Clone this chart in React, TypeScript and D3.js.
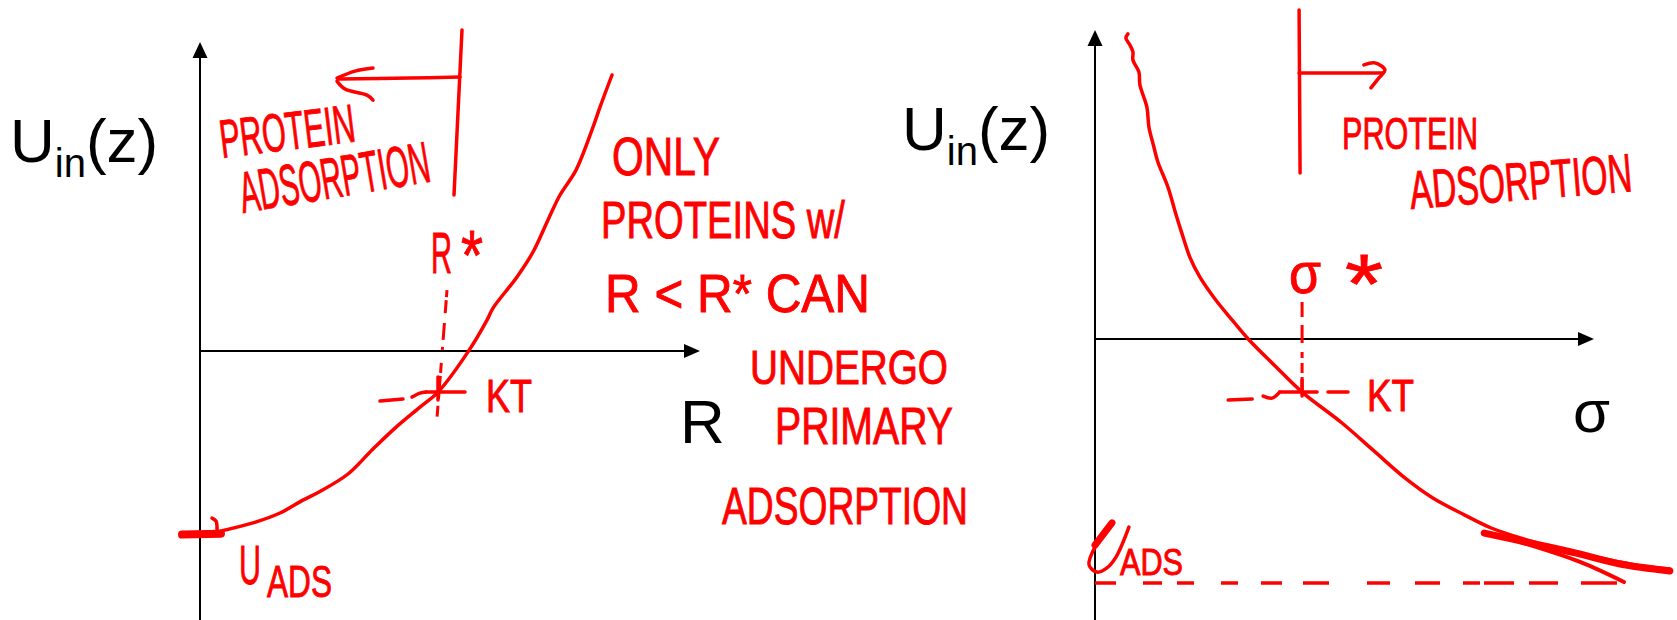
import React, { useLayoutEffect, useRef, useState } from "react";
import * as d3 from "d3";

const W = 1677;
const H = 620;
const RED = "#ff0000";
const INK = "#000000";
const FONT = "'Liberation Sans', Arial, sans-serif";

// ---- Left panel: interaction potential vs. protein radius R ----
const leftR = [0.34, 1.06, 1.6, 2.06, 2.38, 2.96, 3.44, 3.9, 4.4, 4.76, 5.36, 5.74, 5.86, 6.34, 6.66, 6.96, 7.2, 7.52, 7.84, 8.0, 8.24];
const leftU = [-6.03, -5.73, -5.4, -4.97, -4.7, -4.1, -3.3, -2.57, -1.87, -1.37, -0.03, 1.03, 1.43, 2.47, 3.3, 4.37, 5.2, 6.03, 7.37, 8.13, 9.2];
const leftUads = -6.12;
const rStar = 4.76;
const ktLeft = -1.37;
const leftBoundaryR = [5.24, 5.08];
const leftBoundaryU = [10.7, 5.2];
const leftArrowU = 9.13;
const leftArrowEndR = 2.7;

// ---- Right panel: interaction potential vs. grafting density sigma ----
const rightS = [0.66, 0.62, 0.7, 0.76, 0.76, 0.88, 0.9, 1.04, 1.08, 1.18, 1.26, 1.46, 1.62, 1.74, 1.9, 2.1, 2.42, 2.75, 3.07, 3.61, 4.15, 4.95, 5.59, 6.21, 6.77, 7.41, 7.94, 8.72, 9.28, 10.12, 10.82, 11.52];
const rightU = [10.17, 10.03, 9.8, 9.57, 9.3, 8.9, 8.47, 7.73, 7.07, 6.4, 5.9, 5.07, 4.17, 3.53, 2.73, 2.07, 1.3, 0.63, 0, -0.9, -1.77, -2.8, -3.73, -4.63, -5.3, -5.87, -6.3, -6.73, -7.0, -7.3, -7.53, -7.67];
const rightTailS = [7.8, 8.72, 9.62, 10.52, 11.52];
const rightTailU = [-6.47, -6.8, -7.13, -7.5, -7.73];
const rightTail2S = [8.52, 9.72, 10.6];
const rightTail2U = [-6.77, -7.43, -8.1];
const sigmaStar = 4.15;
const ktRight = -1.77;
const rightUads = -8.13;
const rightUadsEndS = 10.46;
const rightBoundaryS = [4.09, 4.11];
const rightBoundaryU = [10.97, 5.53];
const rightArrowU = 8.87;
const rightArrowEndS = 5.81;

// pixel scales for both panels (30 px per unit of U)
const xL = d3.scaleLinear().domain([0, 10]).range([200, 700]);
const yL = d3.scaleLinear().domain([0, 10]).range([351, 51]);
const xR = d3.scaleLinear().domain([0, 10]).range([1095, 1594]);
const yR = d3.scaleLinear().domain([0, 10]).range([339, 39]);

const smooth = d3.line<[number, number]>().curve(d3.curveCatmullRom.alpha(0.5));
const straight = d3.line<[number, number]>();

function pts(xs: number[], ys: number[], sx: d3.ScaleLinear<number, number>, sy: d3.ScaleLinear<number, number>): [number, number][] {
  return xs.map((v, i) => [sx(v), sy(ys[i])] as [number, number]);
}

// Hand-lettered annotation: text squeezed horizontally to a target width.
type HandProps = { x: number; y: number; text: string; size: number; len: number; rot?: number; color?: string };
function Hand({ x, y, text, size, len, rot = 0, color = RED }: HandProps) {
  const ref = useRef<SVGTextElement>(null);
  const [k, setK] = useState(0.6);
  useLayoutEffect(() => {
    const w = ref.current ? ref.current.getComputedTextLength() : 0;
    if (w > 0) setK(len / w);
  }, [text, size, len]);
  return (
    <text
      ref={ref}
      x={0}
      y={0}
      fill={color}
      stroke={color}
      strokeWidth={0.9}
      fontFamily={FONT}
      fontSize={size}
      transform={`translate(${x},${y}) rotate(${rot}) scale(${k},1)`}
    >
      {text}
    </text>
  );
}

function AxisLabel({ x, y }: { x: number; y: number }) {
  return (
    <text x={x} y={y} fill={INK} fontFamily={FONT} fontSize={62}>
      U
      <tspan fontSize={40} dy={15}>in</tspan>
      <tspan dy={-15}>(z)</tspan>
    </text>
  );
}

function Axes({ x0, y0, xTip, yTip, yBottom }: { x0: number; y0: number; xTip: number; yTip: number; yBottom: number }) {
  return (
    <g>
      <line x1={x0} y1={yBottom} x2={x0} y2={yTip + 12} stroke={INK} strokeWidth={2} />
      <path d={`M${x0},${yTip} L${x0 - 7.5},${yTip + 16} L${x0 + 7.5},${yTip + 16} Z`} fill={INK} />
      <line x1={x0} y1={y0} x2={xTip - 12} y2={y0} stroke={INK} strokeWidth={2} />
      <path d={`M${xTip},${y0} L${xTip - 16},${y0 - 7} L${xTip - 16},${y0 + 7} Z`} fill={INK} />
    </g>
  );
}

export default function App() {
  const red = { fill: "none", stroke: RED, strokeWidth: 3.5, strokeLinecap: "round" as const, strokeLinejoin: "round" as const };

  // left panel geometry
  const lCurve = pts(leftR, leftU, xL, yL);
  const lStarX = xL(rStar);
  const lKtY = yL(ktLeft);
  const lBoundary = pts(leftBoundaryR, leftBoundaryU, xL, yL);
  const lArrowY = yL(leftArrowU);
  const lArrowX = xL(leftArrowEndR);

  // right panel geometry
  const rCurve = pts(rightS, rightU, xR, yR);
  const rTail = pts(rightTailS, rightTailU, xR, yR);
  const rTail2 = pts(rightTail2S, rightTail2U, xR, yR);
  const rStarX = xR(sigmaStar);
  const rKtY = yR(ktRight);
  const rBoundary = pts(rightBoundaryS, rightBoundaryU, xR, yR);
  const rArrowY = yR(rightArrowU);
  const rArrowX = xR(rightArrowEndS);
  const rUadsY = yR(rightUads);

  return (
    <svg width={W} height={H} viewBox={`0 0 ${W} ${H}`} style={{ position: "absolute", left: 0, top: 0, background: "#fff" }}>
      <rect width={W} height={H} fill="#fff" />

      {/* ================= left panel ================= */}
      <Axes x0={xL(0)} y0={yL(0)} xTip={xL(10)} yTip={42} yBottom={H} />
      <AxisLabel x={10} y={162} />
      <text x={680} y={443} fill={INK} fontFamily={FONT} fontSize={62}>R</text>

      {/* potential curve */}
      <path d={smooth(lCurve) ?? ""} {...red} />
      {/* U_ads blob where the curve meets the axis */}
      <path d={straight([[xL(-0.36), yL(leftUads)], [xL(0.42), yL(leftUads + 0.03)]]) ?? ""} {...red} strokeWidth={8} />
      <path d={smooth([[xL(0.24), yL(-5.57)], [xL(0.32), yL(-5.67)], [xL(0.34), yL(-6.03)]]) ?? ""} {...red} />

      {/* R* marker */}
      <path
        d={straight([[lStarX + 9, yL(2.03)], [lStarX - 1, yL(-2.23)]]) ?? ""}
        {...red}
        strokeWidth={3}
        strokeLinecap="butt"
        strokeDasharray="7 3 13 10 17 7 3 13 10 3 13 3 7 7 11"
      />
      <path d={straight([[xL(3.6), lKtY + 9], [xL(4.06), lKtY + 7]]) ?? ""} {...red} />
      <path d={smooth([[xL(4.24), lKtY + 5], [xL(4.4), lKtY + 1], [xL(4.52), lKtY]]) ?? ""} {...red} />
      <path d={straight([[xL(4.52), lKtY], [xL(5.3), lKtY]]) ?? ""} {...red} />
      <path d={straight([[lStarX, lKtY - 15], [lStarX, lKtY + 8]]) ?? ""} {...red} />
      <Hand x={431} y={273} text="R" size={58} len={21} />
      <Hand x={461} y={280} text="*" size={70} len={22} />
      <Hand x={486} y={412} text="KT" size={46} len={46} />

      {/* protein adsorption boundary and arrow */}
      <path d={smooth(lBoundary) ?? ""} {...red} />
      <path d={smooth([[lBoundary[0][0] - 2, lArrowY], [xL(4.2), lArrowY + 1], [lArrowX + 4, lArrowY + 2]]) ?? ""} {...red} />
      <path d={smooth([[lArrowX + 38, lArrowY - 9], [lArrowX + 20, lArrowY - 6], [lArrowX + 2, lArrowY + 1]]) ?? ""} {...red} />
      <path d={smooth([[lArrowX + 2, lArrowY + 4], [lArrowX + 10, lArrowY + 12], [lArrowX + 32, lArrowY + 18], [lArrowX + 38, lArrowY + 23]]) ?? ""} {...red} />

      <Hand x={222} y={158} text="PROTEIN" size={54} len={136} rot={-7} />
      <Hand x={243} y={213} text="ADSORPTION" size={58} len={192} rot={-9.5} />

      <Hand x={239} y={584} text="U" size={56} len={22} />
      <Hand x={267} y={597} text="ADS" size={44} len={65} />

      {/* explanatory note */}
      <Hand x={612} y={175} text="ONLY" size={54} len={108} />
      <Hand x={601} y={238} text="PROTEINS w/" size={52} len={244} />
      <Hand x={605} y={312} text="R < R* CAN" size={54} len={265} />
      <Hand x={750} y={384} text="UNDERGO" size={48} len={198} />
      <Hand x={775} y={444} text="PRIMARY" size={52} len={178} />
      <Hand x={722} y={524} text="ADSORPTION" size={52} len={246} />

      {/* ================= right panel ================= */}
      <Axes x0={xR(0)} y0={yR(0)} xTip={xR(10)} yTip={30} yBottom={H} />
      <AxisLabel x={902} y={150} />
      <text x={1573} y={432} fill={INK} fontFamily={FONT} fontSize={60}>σ</text>

      <path d={smooth(rCurve) ?? ""} {...red} />
      <path d={smooth(rTail) ?? ""} {...red} strokeWidth={7} />
      <path d={smooth(rTail2) ?? ""} {...red} strokeWidth={4} />

      {/* U_ads reference level */}
      <path
        d={straight([[xR(0), rUadsY], [xR(rightUadsEndS), rUadsY]]) ?? ""}
        {...red}
        strokeWidth={3.5}
        strokeLinecap="butt"
        strokeDasharray="21 27 19 15 17 27 17 23 21 21 26 38 23 25 25 23 17 4 30 15 29 23 36"
      />
      <path d={straight([[xR(0.34), yR(-6.13)], [xR(0), yR(-6.87)]]) ?? ""} {...red} strokeWidth={7} />
      <path d={smooth([[xR(0.02), yR(-6.87)], [xR(-0.12), yR(-7.53)], [xR(0.04), yR(-7.77)], [xR(0.24), yR(-7.63)], [xR(0.42), yR(-7.27)], [xR(0.68), yR(-6.27)]]) ?? ""} {...red} />
      <Hand x={1120} y={575} text="ADS" size={36} len={63} />

      {/* sigma* marker */}
      <path
        d={straight([[rStarX, yR(1.23)], [rStarX, yR(-1.7)]]) ?? ""}
        {...red}
        strokeWidth={3}
        strokeLinecap="butt"
        strokeDasharray="15 8 18 9 6 5 10 4 13"
      />
      <path d={straight([[xR(2.67), rKtY + 8], [xR(3.15), rKtY + 7]]) ?? ""} {...red} />
      <path d={smooth([[xR(3.37), rKtY + 4], [xR(3.55), rKtY + 6], [xR(3.7), rKtY]]) ?? ""} {...red} />
      <path d={straight([[xR(3.7), rKtY], [xR(4.45), rKtY]]) ?? ""} {...red} />
      <path d={straight([[xR(4.67), rKtY], [xR(5.07), rKtY]]) ?? ""} {...red} />
      <path d={straight([[rStarX, rKtY - 12], [rStarX, rKtY + 4]]) ?? ""} {...red} />
      <Hand x={1289} y={293} text="σ" size={58} len={32} />
      <Hand x={1345} y={313} text="*" size={84} len={38} />
      <Hand x={1367} y={411} text="KT" size={44} len={47} />

      {/* protein adsorption boundary and arrow */}
      <path d={smooth(rBoundary) ?? ""} {...red} />
      <path d={straight([[rBoundary[0][0], rArrowY], [rArrowX - 2, rArrowY]]) ?? ""} {...red} />
      <path d={smooth([[rArrowX - 21, rArrowY - 8], [rArrowX - 10, rArrowY - 10], [rArrowX, rArrowY - 3], [rArrowX - 6, rArrowY + 5], [rArrowX - 14, rArrowY + 15]]) ?? ""} {...red} />

      <Hand x={1342} y={149} text="PROTEIN" size={44} len={136} />
      <Hand x={1411} y={209} text="ADSORPTION" size={54} len={223} rot={-4.6} />
    </svg>
  );
}
